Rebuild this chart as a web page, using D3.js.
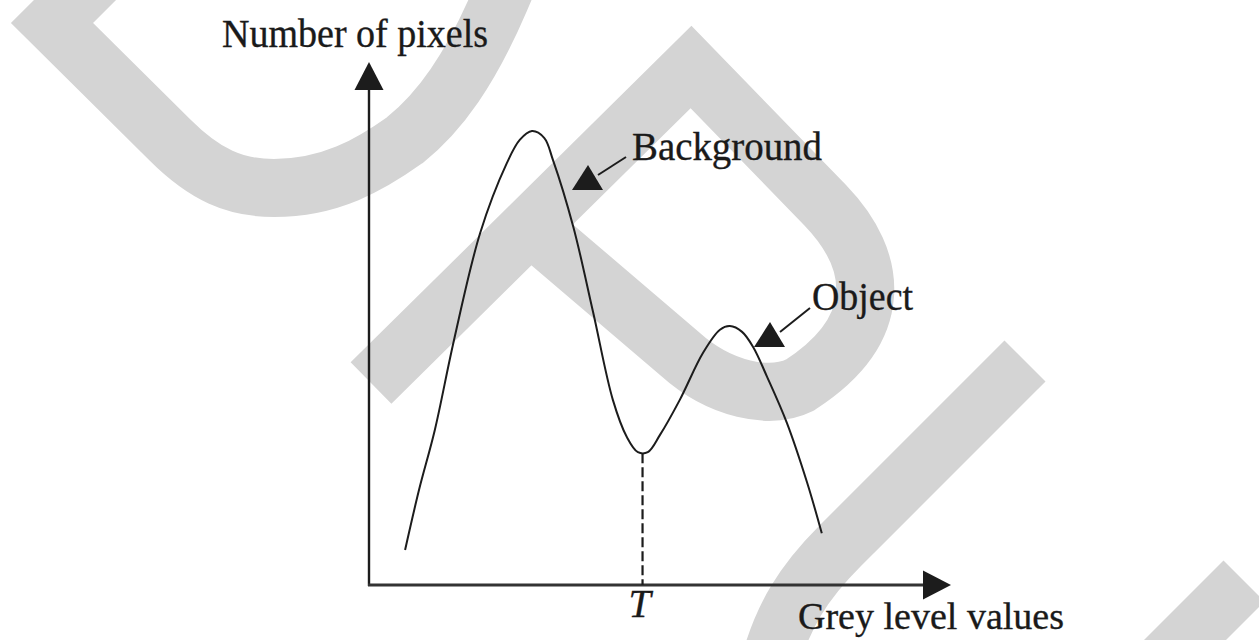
<!DOCTYPE html>
<html>
<head>
<meta charset="utf-8">
<script src="https://cdn.jsdelivr.net/npm/d3@7"></script>
<style>
html,body{margin:0;padding:0;background:#fff;overflow:hidden}
text{font-family:"Liberation Serif","Times New Roman",serif;fill:#1a1a1a;stroke:#1a1a1a;stroke-width:0.35px}
</style>
</head>
<body>
<svg id="chart" width="1259" height="640"></svg>
<script>
// ---- data (grey level in % of axis, count in % of axis) ----
const greyLevels  = [6.2, 8.6, 11.3, 14.6, 19.1, 23.7, 25.9, 28.0, 30.1, 31.6, 35.1, 38.5, 41.9, 44.3, 46.2, 47.9, 50.0, 53.4, 57.4, 60.3, 62.0, 64.1, 66.0, 68.4, 71.8, 75.3, 77.8];
const pixelCounts = [6.7, 18.2, 29.6, 46.8, 67.3, 80.7, 85.1, 86.8, 85.5, 81.3, 68.5, 52.2, 35.4, 28.3, 25.4, 25.4, 28.7, 35.4, 44.4, 48.8, 49.5, 48.4, 45.5, 39.8, 31.0, 19.5, 9.9];
const thresholdValue = 47.0;
const thresholdLabel = "T";
const xAxisLabel = "Grey level values";
const yAxisLabel = "Number of pixels";
const peakNames = ["Background", "Object"];

// ---- layout ----
const svg = d3.select("#chart");
const x = d3.scaleLinear().domain([0, 100]).range([369, 951]);
const y = d3.scaleLinear().domain([0, 100]).range([585, 62]);

// ---- watermark (decorative background strokes) ----
const wm = svg.append("g").attr("fill", "none").attr("stroke", "#d4d4d4")
  .attr("stroke-width", 58).attr("stroke-linejoin", "miter").attr("stroke-miterlimit", 10);
wm.append("path").attr("d", "M110,-35 L52,23 L170,140 C205,175 235,188 274,188 C330,188 370,165 405,140 C440,112 470,70 500,0 L515,-35");
wm.append("path").attr("d", "M371,383 L691,67 L825,205 C880,262 885,330 800,385 C770,400 720,390 680,354 L530,226");
wm.append("path").attr("d", "M1025,361 L840,546 C805,581 782,615 768,670");
wm.append("path").attr("d", "M1244,581 L1150,675");

const ink = "#1c1c1c";
const g = svg.append("g");

// ---- axes with arrow heads ----
const x0 = x(0), y0 = y(0);
const xTip = x(100), yTip = y(100);
const ah = 28, aw = 14.5;
g.append("line").attr("x1", x0).attr("y1", y0 + 1).attr("x2", x0).attr("y2", yTip + ah)
  .attr("stroke", ink).attr("stroke-width", 2.4);
g.append("line").attr("x1", x0 - 1).attr("y1", y0).attr("x2", xTip - ah).attr("y2", y0)
  .attr("stroke", "#333").attr("stroke-width", 3);
g.append("polygon").attr("points", [[x0, yTip], [x0 - aw, yTip + ah], [x0 + aw, yTip + ah]].join(" ")).attr("fill", ink);
g.append("polygon").attr("points", [[xTip, y0], [xTip - ah, y0 - aw], [xTip - ah, y0 + aw]].join(" ")).attr("fill", ink);

// ---- histogram curve ----
const pts = greyLevels.map((v, i) => [v, pixelCounts[i]]);
const line = d3.line().x(d => x(d[0])).y(d => y(d[1])).curve(d3.curveCatmullRom.alpha(0.5));
g.append("path").datum(pts).attr("d", line).attr("fill", "none")
  .attr("stroke", ink).attr("stroke-width", 2);

// ---- threshold dashed line (from the valley down to the axis) ----
const iT = d3.leastIndex(greyLevels, (a, b) => Math.abs(a - thresholdValue) - Math.abs(b - thresholdValue));
g.append("line").attr("x1", x(thresholdValue)).attr("x2", x(thresholdValue))
  .attr("y1", y(pixelCounts[iT]) + 1).attr("y2", y0)
  .attr("stroke", ink).attr("stroke-width", 2.2).attr("stroke-dasharray", "10,4");
g.append("text").attr("x", x(thresholdValue) - 3).attr("y", 617)
  .attr("text-anchor", "middle").attr("font-style", "italic").attr("font-size", 40)
  .text(thresholdLabel);

// ---- axis labels ----
g.append("text").attr("x", 222).attr("y", 47).attr("font-size", 40)
  .attr("textLength", 266).attr("lengthAdjust", "spacingAndGlyphs").text(yAxisLabel);
g.append("text").attr("x", 798).attr("y", 629).attr("font-size", 38)
  .attr("textLength", 266).attr("lengthAdjust", "spacingAndGlyphs").text(xAxisLabel);

// ---- peak annotations ----
const ann = [
  {name: peakNames[0], tip: [588, 165], lineFrom: [598, 175], lineTo: [626, 157], tx: 632, ty: 160, tw: 190},
  {name: peakNames[1], tip: [770, 322], lineFrom: [780, 332], lineTo: [810, 308], tx: 812, ty: 310, tw: 101}
];
ann.forEach(a => {
  g.append("polygon").attr("points",
    [[a.tip[0], a.tip[1]], [a.tip[0] - 16, a.tip[1] + 25], [a.tip[0] + 15, a.tip[1] + 25]].join(" "))
    .attr("fill", ink);
  g.append("line").attr("x1", a.lineFrom[0]).attr("y1", a.lineFrom[1])
    .attr("x2", a.lineTo[0]).attr("y2", a.lineTo[1]).attr("stroke", ink).attr("stroke-width", 2);
  g.append("text").attr("x", a.tx).attr("y", a.ty).attr("font-size", 40)
    .attr("textLength", a.tw).attr("lengthAdjust", "spacingAndGlyphs").text(a.name);
});
</script>
</body>
</html>
